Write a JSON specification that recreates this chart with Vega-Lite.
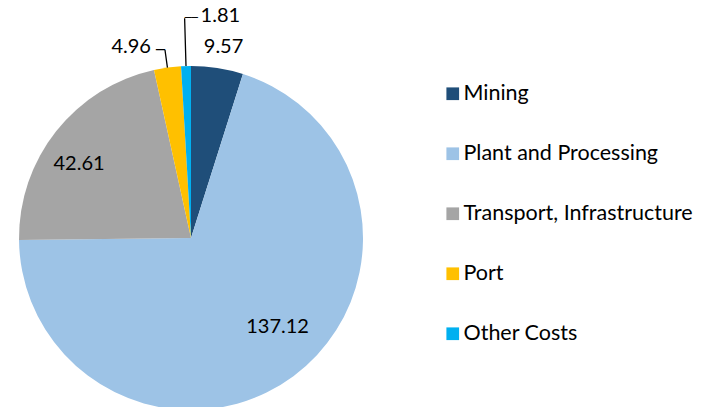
{
  "$schema": "https://vega.github.io/schema/vega-lite/v6.json",
  "width": 382,
  "height": 476,
  "padding": 0,
  "background": "white",
  "config": {"view": {"stroke": null}, "font": "Lato"},
  "data": {
    "values": [
      {"cat": "Mining", "value": 9.57, "order": 1},
      {"cat": "Plant and Processing", "value": 137.12, "order": 2},
      {"cat": "Transport, Infrastructure", "value": 42.61, "order": 3},
      {"cat": "Port", "value": 4.96, "order": 4},
      {"cat": "Other Costs", "value": 1.81, "order": 5}
    ]
  },
  "encoding": {
    "theta": {"field": "value", "type": "quantitative", "stack": true},
    "order": {"field": "order", "type": "quantitative"}
  },
  "layer": [
    {
      "mark": {"type": "arc", "outerRadius": 172},
      "encoding": {
        "color": {
          "field": "cat",
          "type": "nominal",
          "scale": {
            "domain": ["Mining", "Plant and Processing", "Transport, Infrastructure", "Port", "Other Costs"],
            "range": ["#1F4E79", "#9DC3E6", "#A5A5A5", "#FFC000", "#00B0F0"]
          },
          "legend": {
            "orient": "none",
            "legendX": 442,
            "legendY": 83,
            "title": null,
            "symbolType": "square",
            "symbolSize": 161,
            "symbolStrokeWidth": 0,
            "labelFont": "Lato",
            "labelFontSize": 21.5,
            "labelColor": "#000",
            "labelLimit": 400,
            "labelOffset": 0,
            "rowPadding": 37,
            "padding": 0
          }
        }
      }
    },
    {
      "mark": {"type": "text", "radius": 193.6, "dx": 3, "fontSize": 20, "color": "#000", "align": "center", "baseline": "middle"},
      "encoding": {
        "text": {"condition": {"test": "datum.cat === 'Mining'", "field": "value", "type": "quantitative", "format": ".2f"}, "value": ""}
      }
    },
    {
      "mark": {"type": "text", "radius": 123.5, "dx": 13, "dy": -10, "fontSize": 20, "color": "#000", "align": "center", "baseline": "middle"},
      "encoding": {
        "text": {"condition": {"test": "datum.cat === 'Plant and Processing'", "field": "value", "type": "quantitative", "format": ".2f"}, "value": ""}
      }
    },
    {
      "mark": {"type": "text", "radius": 134, "dx": -7, "dy": 9, "fontSize": 20, "color": "#000", "align": "center", "baseline": "middle"},
      "encoding": {
        "text": {"condition": {"test": "datum.cat === 'Transport, Infrastructure'", "field": "value", "type": "quantitative", "format": ".2f"}, "value": ""}
      }
    },
    {
      "mark": {"type": "text", "radius": 190, "dx": -14, "dy": -3, "fontSize": 20, "color": "#000", "align": "right", "baseline": "middle"},
      "encoding": {
        "text": {"condition": {"test": "datum.cat === 'Port'", "field": "value", "type": "quantitative", "format": ".2f"}, "value": ""}
      }
    },
    {
      "mark": {"type": "text", "radius": 220, "dx": 16, "dy": -2.5, "fontSize": 20, "color": "#000", "align": "left", "baseline": "middle"},
      "encoding": {
        "text": {"condition": {"test": "datum.cat === 'Other Costs'", "field": "value", "type": "quantitative", "format": ".2f"}, "value": ""}
      }
    },
    {
      "mark": {"type": "arc", "innerRadius": 172, "outerRadius": 189.8, "padAngle": 3, "fillOpacity": 0, "stroke": "#000", "strokeWidth": 1.3},
      "encoding": {
        "strokeOpacity": {"condition": {"test": "datum.cat === 'Port'", "value": 1}, "value": 0}
      }
    },
    {
      "mark": {"type": "arc", "innerRadius": 172, "outerRadius": 219.8, "padAngle": 3, "fillOpacity": 0, "stroke": "#000", "strokeWidth": 1.3},
      "encoding": {
        "strokeOpacity": {"condition": {"test": "datum.cat === 'Other Costs'", "value": 1}, "value": 0}
      }
    },
    {
      "mark": {"type": "text", "radius": 189.8, "font": "DejaVu Sans", "fontSize": 15, "color": "#000", "align": "right", "baseline": "middle"},
      "encoding": {
        "text": {"condition": {"test": "datum.cat === 'Port'", "value": "─"}, "value": ""}
      }
    },
    {
      "mark": {"type": "text", "radius": 219.8, "font": "DejaVu Sans", "fontSize": 11, "color": "#000", "align": "left", "baseline": "middle"},
      "encoding": {
        "text": {"condition": {"test": "datum.cat === 'Other Costs'", "value": "──"}, "value": ""}
      }
    }
  ]
}
